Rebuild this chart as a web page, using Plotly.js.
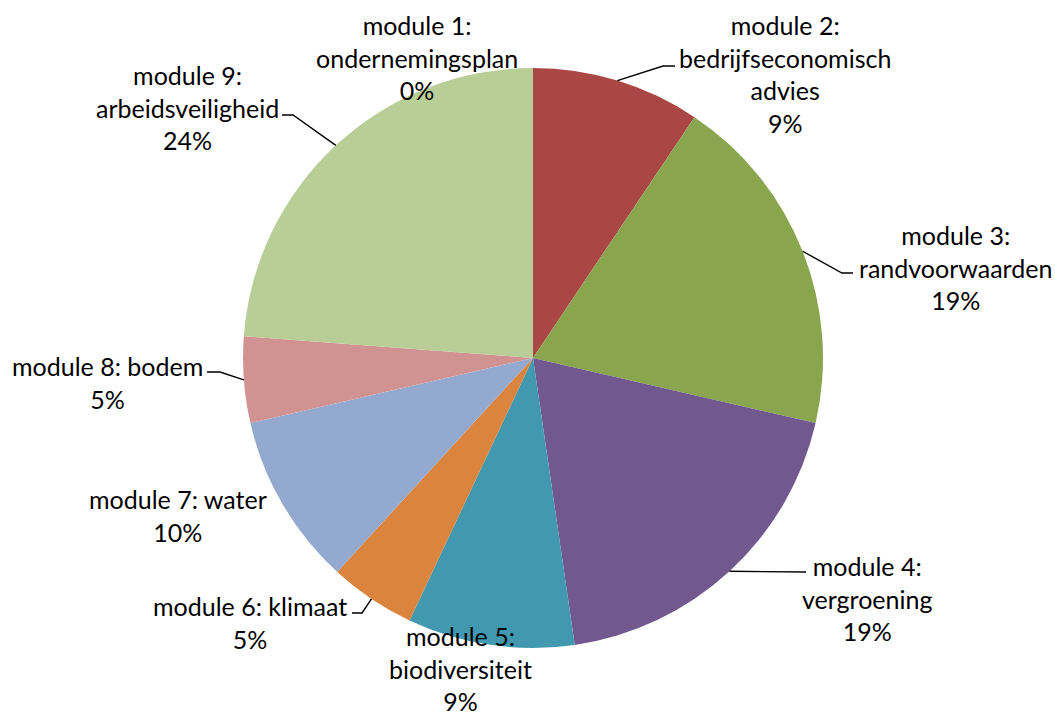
<!DOCTYPE html>
<html>
<head>
<meta charset="utf-8">
<script src="https://cdn.plot.ly/plotly-3.0.1.min.js"></script>
<style>html,body{margin:0;padding:0;background:#fff;}#chart{width:1055px;height:715px;}</style>
</head>
<body>
<div id="chart"></div>
<script>
// ---- data ----
const categories = [
  "module 1:<br>ondernemingsplan",
  "module 2:<br>bedrijfseconomisch<br>advies",
  "module 3:<br>randvoorwaarden",
  "module 4:<br>vergroening",
  "module 5:<br>biodiversiteit",
  "module 6: klimaat",
  "module 7: water",
  "module 8: bodem",
  "module 9:<br>arbeidsveiligheid"
];
const values = [0, 9.4, 19.2, 19.1, 9.3, 4.8, 9.6, 4.8, 23.8];
const colors = ["#4572A7", "#AA4643", "#89A54E", "#71588F", "#4198AF", "#DB843D", "#93A9CF", "#D19392", "#B9CD96"];

// ---- layout (pixel positions of label blocks, leader elbows/ends) ----
const W = 1055, H = 715;
const cx = 533, cy = 358, R = 290;
const labelPos = [ [417, 57], [785, 74], [955, 268], [867, 598], [460, 668], [250, 622], [178, 515], [107, 382], [187, 108] ];
// leader: [elbowX, elbowY, endX, endY] or null
const leaders = [ null, [663, 66, 675, 66], [842, 273, 853, 273], [806, 572, 806, 572], null, [362, 613, 352, 613], null, [220, 372, 207, 372], [293, 115, 282, 115] ];

const px = x => x / W;
const py = y => 1 - y / H;

const total = values.reduce((a, b) => a + b, 0);
const annotations = [];
const shapes = [];
let cum = 0;
values.forEach((v, i) => {
  const mid = (cum + v / 2) / total * 2 * Math.PI;
  cum += v;
  const pct = Math.round(v / total * 100) + "%";
  annotations.push({
    xref: "paper", yref: "paper",
    x: px(labelPos[i][0]), y: py(labelPos[i][1]),
    xanchor: "center", yanchor: "middle",
    text: categories[i] + "<br>" + pct,
    showarrow: false, align: "center",
    font: {family: "Lato, 'Open Sans', sans-serif", size: 25, color: "#000"}
  });
  if (leaders[i]) {
    const sx = cx + R * Math.sin(mid), sy = cy - R * Math.cos(mid);
    const L = leaders[i];
    shapes.push({
      type: "path", xref: "paper", yref: "paper",
      path: `M ${px(sx)} ${py(sy)} L ${px(L[0])} ${py(L[1])} L ${px(L[2])} ${py(L[3])}`,
      line: {color: "#000", width: 1.4}
    });
  }
});

const trace = {
  type: "pie",
  labels: categories,
  values: values,
  sort: false,
  direction: "clockwise",
  rotation: 0,
  textinfo: "none",
  hoverinfo: "label+percent",
  marker: {colors: colors, line: {color: "#ffffff", width: 0}},
  domain: {x: [(cx - R) / W, (cx + R) / W], y: [1 - (cy + R) / H, 1 - (cy - R) / H]},
  showlegend: false
};

Plotly.newPlot("chart", [trace], {
  width: W, height: H,
  margin: {l: 0, r: 0, t: 0, b: 0},
  paper_bgcolor: "#fff",
  showlegend: false,
  annotations: annotations,
  shapes: shapes
}, {displayModeBar: false, staticPlot: true});
</script>
</body>
</html>
